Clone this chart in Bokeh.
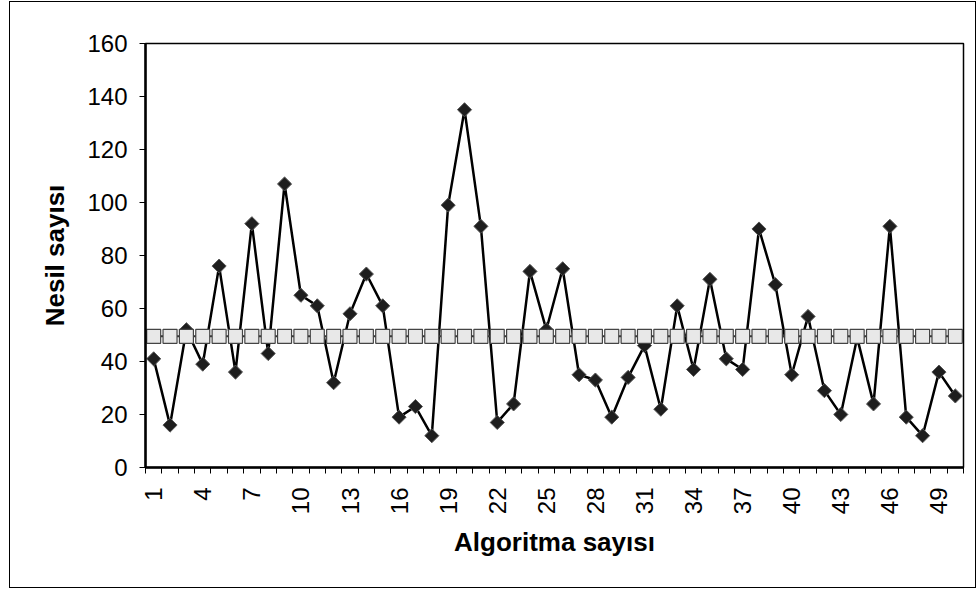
from bokeh.plotting import figure
from bokeh.models import FixedTicker, Range1d
from bokeh.embed import file_html
from bokeh.resources import INLINE
import math

algoritma = list(range(1, 51))
nesil = [41, 16, 52, 39, 76, 36, 92, 43, 107, 65,
         61, 32, 58, 73, 61, 19, 23, 12, 99, 135,
         91, 17, 24, 74, 52, 75, 35, 33, 19, 34,
         46, 22, 61, 37, 71, 41, 37, 90, 69, 35,
         57, 29, 20, 49, 24, 91, 19, 12, 36, 27]
ortalama = [49.5] * 50
x_tick_values = list(range(1, 51, 3))
y_tick_values = list(range(0, 161, 20))

W, H = 965, 585
p = figure(width=W, height=H, output_backend="svg", toolbar_location=None,
           x_range=Range1d(0.5, 50.5), y_range=Range1d(0, 160),
           min_border_left=135, min_border_right=12, min_border_top=41, min_border_bottom=120)
p.styles = {"outline": "1.5px solid black", "margin-left": "10px", "margin-top": "2px"}
p.xgrid.visible = False
p.ygrid.visible = False
p.outline_line_color = "black"
p.outline_line_width = 1.5
p.background_fill_color = "white"
p.border_fill_color = "white"

font = "Liberation Sans"
p.xaxis.ticker = FixedTicker(ticks=x_tick_values, minor_ticks=[i + 0.5 for i in range(0, 51)])
p.xaxis.major_label_orientation = math.pi / 2
p.xaxis.major_tick_line_color = None
p.xaxis.minor_tick_out = 6
p.xaxis.minor_tick_in = 0
p.xaxis.minor_tick_line_color = "black"
p.xaxis.axis_label = "Algoritma sayısı"

p.yaxis.ticker = FixedTicker(ticks=y_tick_values, minor_ticks=[])
p.yaxis.major_tick_out = 6
p.yaxis.major_tick_in = 0
p.yaxis.axis_label = "Nesil sayısı"

for ax in (p.xaxis[0], p.yaxis[0]):
    ax.axis_line_width = 2.5
    ax.axis_line_color = "black"
    ax.major_label_text_font = font
    ax.major_label_text_font_size = "24px"
    ax.major_label_text_color = "black"
    ax.axis_label_text_font = font
    ax.axis_label_text_font_style = "bold"
    ax.axis_label_text_font_size = "26px"
    ax.axis_label_text_color = "black"
p.xaxis.major_label_standoff = 14
p.xaxis.axis_label_standoff = 10
p.yaxis.major_label_standoff = 12
p.yaxis.axis_label_standoff = 14

p.line(algoritma, nesil, line_color="black", line_width=2.5)
p.scatter(algoritma, nesil, marker="square", angle=math.pi / 4, size=10,
          fill_color="#1e1e1e", line_color="#555555", line_width=1)
p.line(algoritma, ortalama, line_color="#333333", line_width=2)
p.scatter(algoritma, ortalama, marker="square", size=14, fill_color="#e8e8e8",
          line_color="#444444", line_width=1.2)

open("out.html", "w").write(file_html(p, INLINE))
